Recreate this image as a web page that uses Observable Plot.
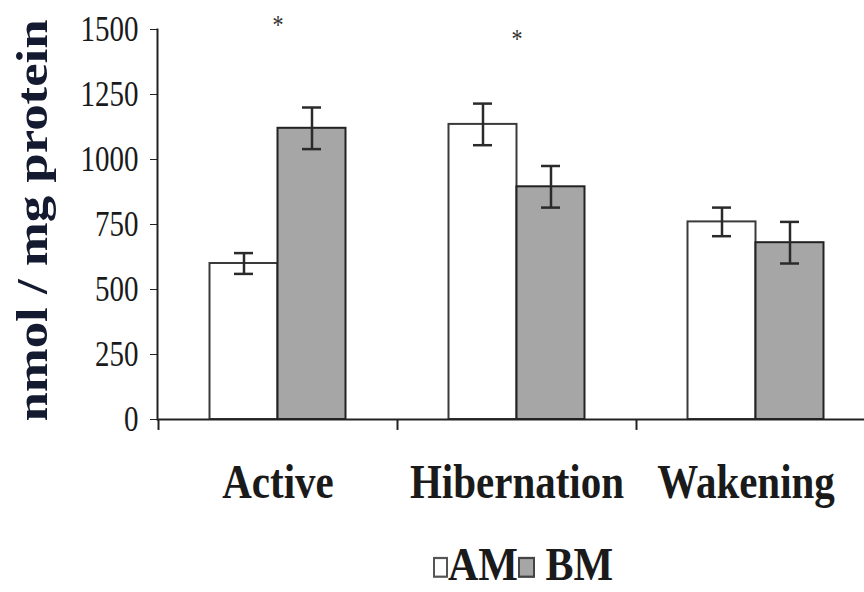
<!DOCTYPE html>
<html><head><meta charset="utf-8">
<script src="https://cdn.jsdelivr.net/npm/d3@7"></script>
<script src="https://cdn.jsdelivr.net/npm/@observablehq/plot@0.6"></script>
<style>
body{margin:0;background:#fff;}
#wrap{position:relative;width:864px;height:592px;overflow:hidden;background:#fff;}
#legend{position:absolute;left:433px;top:545px;font:bold 42px 'Liberation Serif','Times New Roman',serif;line-height:42px;color:#1a1a1a;white-space:nowrap;transform:scaleY(1.1);transform-origin:0 35px;}
.sq{display:inline-block;width:11px;height:15px;border:2px solid #555;vertical-align:baseline;margin-bottom:2px;}
</style>
</head><body><div id="wrap"></div>
<script>
// ---- data ----
const categories = ["Active", "Hibernation", "Wakening"];
const seriesNames = ["AM", "BM"];
const amMean = [600, 1135, 760];
const amErr  = [40, 80, 55];
const bmMean = [1120, 895, 680];
const bmErr  = [80, 80, 80];
const yTicks = [0, 250, 500, 750, 1000, 1250, 1500];
const sigCats = ["Active", "Hibernation"];
const sigY = [1515, 1460];
const yTitle = "nmol / mg protein";

const am = categories.map((c, i) => ({cat: c, series: seriesNames[0], value: amMean[i], err: amErr[i]}));
const bm = categories.map((c, i) => ({cat: c, series: seriesNames[1], value: bmMean[i], err: bmErr[i]}));
const sig = sigCats.map((c, i) => ({cat: c, y: sigY[i]}));

const W = 864, H = 530;
const band = 239, half = band / 2, barW = 68, capW = 19;
const ink = "#2a2a2a";

const errMarks = (rows, side) => {
  const off = side * barW / 2;
  const capL = half + off - capW / 2, capR = half - off - capW / 2;
  return [
    Plot.ruleX(rows, {x: "cat", y1: d => d.value - d.err, y2: d => d.value + d.err, dx: off, stroke: ink, strokeWidth: 2.5}),
    Plot.tickY(rows, {x: "cat", y: d => d.value + d.err, insetLeft: capL, insetRight: capR, stroke: ink, strokeWidth: 2.5}),
    Plot.tickY(rows, {x: "cat", y: d => d.value - d.err, insetLeft: capL, insetRight: capR, stroke: ink, strokeWidth: 2.5})
  ];
};

const catStyle = {tickSize: 0, tickPadding: 47, fontSize: 41, fontWeight: "bold", label: null};

const chart = Plot.plot({
  width: W, height: H,
  marginLeft: 157, marginTop: 29, marginBottom: H - 419, marginRight: 0,
  style: {fontFamily: "'Liberation Serif','Times New Roman',serif", background: "white", color: "#1a1a1a", overflow: "visible"},
  x: {domain: categories, range: [158, 875], padding: 0},
  y: {domain: [0, 1500]},
  marks: [
    Plot.barY(am, {x: "cat", y: "value", fill: "white", stroke: "#3a3a3a", strokeWidth: 2, insetLeft: half - barW, insetRight: half}),
    Plot.barY(bm, {x: "cat", y: "value", fill: "#a6a6a6", stroke: "#222", strokeWidth: 2, insetLeft: half, insetRight: half - barW}),
    ...errMarks(am, -1),
    ...errMarks(bm, 1),
    Plot.ruleY([0], {stroke: "#222", strokeWidth: 2}),
    Plot.ruleX(categories, {x: d => d, dx: -half, y1: 0, y2: -42, stroke: "#222", strokeWidth: 2}),
    Plot.frame({anchor: "left", stroke: "#222", strokeWidth: 2}),
    Plot.axisY({ticks: yTicks, tickFormat: d3.format("d"), tickSize: 7, tickPadding: 12, fontSize: 29, label: null, stroke: "#222"}),
    Plot.axisX({...catStyle, ticks: categories.slice(0, 2)}),
    Plot.axisX({...catStyle, ticks: categories.slice(2), dx: -10}),
    Plot.text([yTitle], {frameAnchor: "left", rotate: -90, dx: -125, dy: -4, fontSize: 44, fontWeight: "bold", fill: "#141a30", textAnchor: "middle", lineAnchor: "middle"}),
    Plot.text(sig, {x: "cat", y: "y", text: () => "*", fontSize: 22, fill: "#333"})
  ]
});

const wrap = document.getElementById("wrap");
wrap.appendChild(chart);

// vertical stretch of all texts (reference glyphs are taller than wide)
function stretch(svg, k) {
  svg.querySelectorAll("text").forEach(t => {
    const b = t.getBBox();
    const c = t.transform.baseVal.consolidate();
    const m = c ? c.matrix : {a: 1, b: 0, c: 0, d: 1, e: 0, f: 0};
    const cx = b.x + b.width / 2, cy = b.y + b.height / 2;
    const py = m.b * cx + m.d * cy + m.f;
    const g = document.createElementNS("http://www.w3.org/2000/svg", "g");
    g.setAttribute("transform", `translate(0,${py}) scale(1,${k}) translate(0,${-py})`);
    t.parentNode.insertBefore(g, t);
    g.appendChild(t);
  });
}
stretch(chart, 1.2);

const legend = document.createElement("div");
legend.id = "legend";
legend.innerHTML = `<span class="sq" style="background:#fff"></span>${seriesNames[0]}<span class="sq" style="background:#a6a6a6;border-color:#444;width:13px"></span> ${seriesNames[1]}`;
wrap.appendChild(legend);
</script>
</body></html>
